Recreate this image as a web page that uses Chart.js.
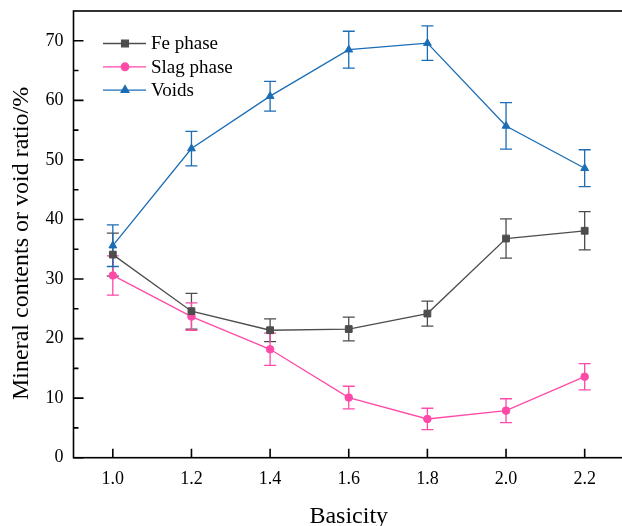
<!DOCTYPE html>
<html lang="en">
<head>
<meta charset="UTF-8">
<title>Mineral contents and void ratio vs basicity</title>
<script src="https://cdn.jsdelivr.net/npm/chart.js@4.4.0/dist/chart.umd.min.js"></script>
<style>
  html, body { margin: 0; padding: 0; background: #fff; overflow: hidden; }
  #wrap { width: 630px; height: 526px; }
</style>
</head>
<body>
<div id="wrap"><canvas id="myChart"></canvas></div>
<script>
const basicity = [1.0, 1.2, 1.4, 1.6, 1.8, 2.0, 2.2]
const fePhase = [34.1, 24.6, 21.4, 21.6, 24.2, 36.8, 38.1]
const feErr = [3.6, 3.0, 1.9, 2.0, 2.1, 3.3, 3.2]
const slagPhase = [30.6, 23.7, 18.2, 10.1, 6.5, 7.9, 13.6]
const slagErr = [3.3, 2.3, 2.7, 1.9, 1.8, 2.0, 2.2]
const voids = [35.6, 51.9, 60.7, 68.5, 69.6, 55.7, 48.6]
const voidsErr = [3.5, 2.9, 2.5, 3.1, 2.9, 3.9, 3.1]
const xTicks = [1.0, 1.2, 1.4, 1.6, 1.8, 2.0, 2.2]
const yTicks = [0, 10, 20, 30, 40, 50, 60, 70]
const yMinorTicks = [5, 15, 25, 35, 45, 55, 65]

const serif = 'Liberation Serif'

function points(ys) {
    return basicity.map((x, i) => ({ x: x, y: ys[i] }))
}

// error bars drawn with the y scale, under the markers
const errorBars = {
    id: 'errorBars',
    beforeDatasetsDraw(chart) {
        const ctx = chart.ctx
        const yScale = chart.scales.y
        chart.data.datasets.forEach((ds, i) => {
            const meta = chart.getDatasetMeta(i)
            ctx.save()
            ctx.strokeStyle = ds.borderColor
            ctx.lineWidth = 1.3
            meta.data.forEach((pt, j) => {
                const v = ds.data[j].y
                const e = ds.errors[j]
                const top = yScale.getPixelForValue(v + e)
                const bot = yScale.getPixelForValue(v - e)
                ctx.beginPath()
                ctx.moveTo(pt.x, top); ctx.lineTo(pt.x, bot)
                ctx.moveTo(pt.x - 6, top); ctx.lineTo(pt.x + 6, top)
                ctx.moveTo(pt.x - 6, bot); ctx.lineTo(pt.x + 6, bot)
                ctx.stroke()
            })
            ctx.restore()
        })
    }
}

// box and inward ticks
const frame = {
    id: 'frame',
    afterDraw(chart) {
        const { ctx, chartArea: a, scales: { x, y } } = chart
        ctx.save()
        ctx.strokeStyle = '#000'
        ctx.lineWidth = 1.6
        ctx.strokeRect(a.left, a.top, a.right - a.left, a.bottom - a.top)
        ctx.beginPath()
        xTicks.forEach(v => {
            const px = x.getPixelForValue(v)
            ctx.moveTo(px, a.bottom); ctx.lineTo(px, a.bottom - 9)
        })
        yTicks.forEach(v => {
            const py = y.getPixelForValue(v)
            ctx.moveTo(a.left, py); ctx.lineTo(a.left + 10, py)
        })
        yMinorTicks.forEach(v => {
            const py = y.getPixelForValue(v)
            ctx.moveTo(a.left, py); ctx.lineTo(a.left + 5, py)
        })
        ctx.stroke()
        ctx.restore()

        // legend: line + marker + label
        chart.data.datasets.forEach((ds, i) => {
            const ly = 43.5 + i * 23.3
            ctx.save()
            ctx.strokeStyle = ds.borderColor
            ctx.fillStyle = ds.borderColor
            ctx.lineWidth = 1.3
            ctx.beginPath()
            ctx.moveTo(103, ly); ctx.lineTo(146, ly)
            ctx.stroke()
            Chart.helpers.drawPoint(ctx, {
                pointStyle: ds.pointStyle, radius: ds.pointRadius, rotation: 0, borderWidth: 1
            }, 125, ly)
            ctx.fillStyle = '#000'
            ctx.font = '19px "' + serif + '"'
            ctx.textBaseline = 'middle'
            ctx.fillText(ds.label, 151, ly + 1)
            ctx.restore()
        })
    }
}

const data = {
    datasets: [
        {
            label: 'Fe phase',
            data: points(fePhase),
            errors: feErr,
            borderColor: '#4d4d4d',
            backgroundColor: '#4d4d4d',
            pointStyle: 'rect',
            pointRadius: 4.8,
        },
        {
            label: 'Slag phase',
            data: points(slagPhase),
            errors: slagErr,
            borderColor: '#ff4aa8',
            backgroundColor: '#ff4aa8',
            pointStyle: 'circle',
            pointRadius: 3.8,
        },
        {
            label: 'Voids',
            data: points(voids),
            errors: voidsErr,
            borderColor: '#1b6db5',
            backgroundColor: '#1b6db5',
            pointStyle: 'triangle',
            pointRadius: 4.5,
        }]
}

const config = {
    type: 'line',
    data,
    options: {
        responsive: true,
        maintainAspectRatio: false,
        animation: false,
        layout: { padding: { top: 11, right: 3, bottom: 0, left: 0 } },
        elements: {
            line: { borderWidth: 1.3, tension: 0 },
            point: { borderWidth: 1, hoverRadius: 5 }
        },
        plugins: {
            legend: { display: false },
            tooltip: { enabled: false }
        },
        scales: {
            x: {
                type: 'linear',
                min: 0.9,
                max: 2.3,
                afterBuildTicks: s => { s.ticks = xTicks.map(v => ({ value: v })) },
                afterFit: s => {
                    s.height = 68.3
                    s.paddingLeft = 0
                    s.paddingRight = 0
                },
                grid: { display: false, drawTicks: false },
                border: { display: false },
                ticks: {
                    padding: 11,
                    color: '#000',
                    font: { family: serif, size: 18 },
                    callback: v => v.toFixed(1)
                },
                title: {
                    display: true,
                    text: 'Basicity',
                    color: '#000',
                    font: { family: serif, size: 24 },
                    padding: { top: 0, bottom: -5 }
                }
            },
            y: {
                min: 0,
                max: 75,
                afterBuildTicks: s => { s.ticks = yTicks.map(v => ({ value: v })) },
                afterFit: s => {
                    s.width = 73.5
                    s.paddingTop = 0
                    s.paddingBottom = 0
                },
                grid: { display: false, drawTicks: false },
                border: { display: false },
                ticks: {
                    padding: 10,
                    color: '#000',
                    font: { family: serif, size: 18 }
                },
                title: {
                    display: true,
                    // trailing spaces nudge the rotated title a little lower, as in the figure
                    text: 'Mineral contents or void ratio/%   ',
                    color: '#000',
                    font: { family: serif, size: 24 },
                    padding: { top: 7, bottom: 0 }
                }
            }
        }
    },
    plugins: [errorBars, frame]
}

var myChart = new Chart(document.getElementById('myChart'), config)
</script>
</body>
</html>
